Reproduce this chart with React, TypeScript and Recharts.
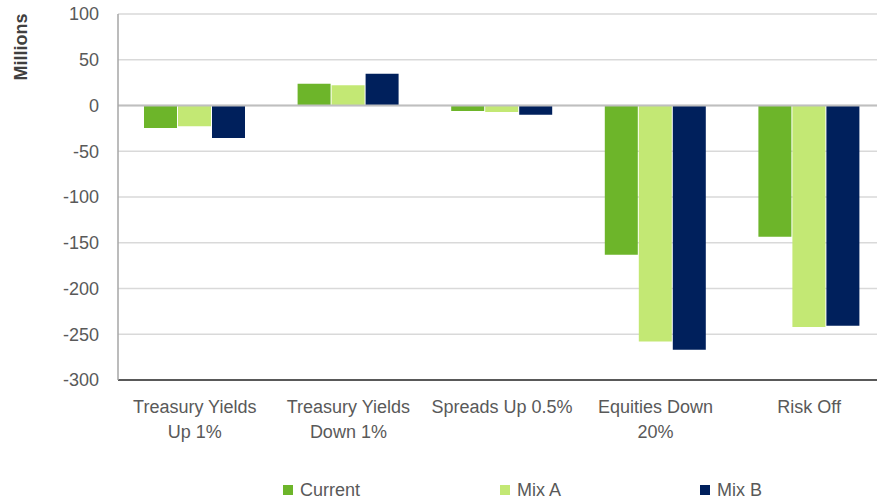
import { BarChart, Bar, XAxis, YAxis, CartesianGrid, Legend, ReferenceLine } from "recharts";

const categories = [
  "Treasury Yields\nUp 1%",
  "Treasury Yields\nDown 1%",
  "Spreads Up 0.5%",
  "Equities Down\n20%",
  "Risk Off",
];
const current = [-24.5, 23.7, -6, -163, -143.5];
const mixA = [-22.6, 22, -7, -258, -242];
const mixB = [-35.4, 34.7, -10, -267, -240.6];
const yTicks = [100, 50, 0, -50, -100, -150, -200, -250, -300];

const seriesNames = ["Current", "Mix A", "Mix B"];
const seriesColors = ["#6DB52A", "#C3E874", "#00205C"];

const data = categories.map((name, i) => ({
  name,
  current: current[i],
  mixA: mixA[i],
  mixB: mixB[i],
}));

const font = "'Liberation Sans', Arial, sans-serif";

const CategoryTick = ({ x, y, payload }: any) => {
  const lines = String(payload.value).split("\n");
  return (
    <g>
      {lines.map((line, i) => (
        <text
          key={i}
          x={x}
          y={y + 33 + i * 25}
          textAnchor="middle"
          fill="#595959"
          fontSize={18}
          fontFamily={font}
        >
          {line}
        </text>
      ))}
    </g>
  );
};

const legendOffsets = [283, 500, 700];

const renderLegend = () => (
  <div style={{ position: "relative", width: 877, height: 52 }}>
    {seriesNames.map((name, i) => (
      <div
        key={name}
        style={{
          position: "absolute",
          left: legendOffsets[i],
          top: 30,
          display: "flex",
          alignItems: "center",
          fontFamily: font,
          fontSize: 18,
          color: "#595959",
          lineHeight: "20px",
        }}
      >
        <span
          style={{
            width: 10,
            height: 10,
            background: seriesColors[i],
            marginRight: 7,
            display: "inline-block",
          }}
        />
        {name}
      </div>
    ))}
  </div>
);

export default function App() {
  return (
    <div
      style={{
        position: "absolute",
        left: 0,
        top: 0,
        width: 877,
        height: 502,
        overflow: "hidden",
        background: "#fff",
      }}
    >
      <div
        style={{
          position: "absolute",
          left: 21,
          top: 47,
          transform: "translate(-50%, -50%) rotate(-90deg)",
          fontFamily: font,
          fontWeight: "bold",
          fontSize: 18,
          color: "#404040",
          whiteSpace: "nowrap",
        }}
      >
        Millions
      </div>
      <BarChart
        width={886}
        height={502}
        data={data}
        margin={{ top: 14, right: 0, left: 0, bottom: 0 }}
        barSize={33}
        barGap={1}
      >
        <CartesianGrid vertical={false} stroke="#D9D9D9" strokeWidth={1.5} />
        <XAxis
          dataKey="name"
          interval={0}
          height={70}
          tick={<CategoryTick />}
          tickLine={false}
          tickSize={0}
          tickMargin={0}
          axisLine={{ stroke: "#595959", strokeWidth: 2 }}
        />
        <YAxis
          width={118}
          domain={[-300, 100]}
          ticks={yTicks}
          interval={0}
          tickLine={false}
          tickSize={0}
          tickMargin={19}
          axisLine={{ stroke: "#A6A6A6", strokeWidth: 1.5 }}
          tick={{ fill: "#595959", fontSize: 18, fontFamily: font }}
        />
        <ReferenceLine y={0} stroke="#BFBFBF" strokeWidth={2} />
        <Legend verticalAlign="bottom" height={52} content={renderLegend} wrapperStyle={{ left: 0, width: 877 }} />
        <Bar dataKey="current" name="Current" fill={seriesColors[0]} isAnimationActive={false} />
        <Bar dataKey="mixA" name="Mix A" fill={seriesColors[1]} isAnimationActive={false} />
        <Bar dataKey="mixB" name="Mix B" fill={seriesColors[2]} isAnimationActive={false} />
      </BarChart>
    </div>
  );
}
